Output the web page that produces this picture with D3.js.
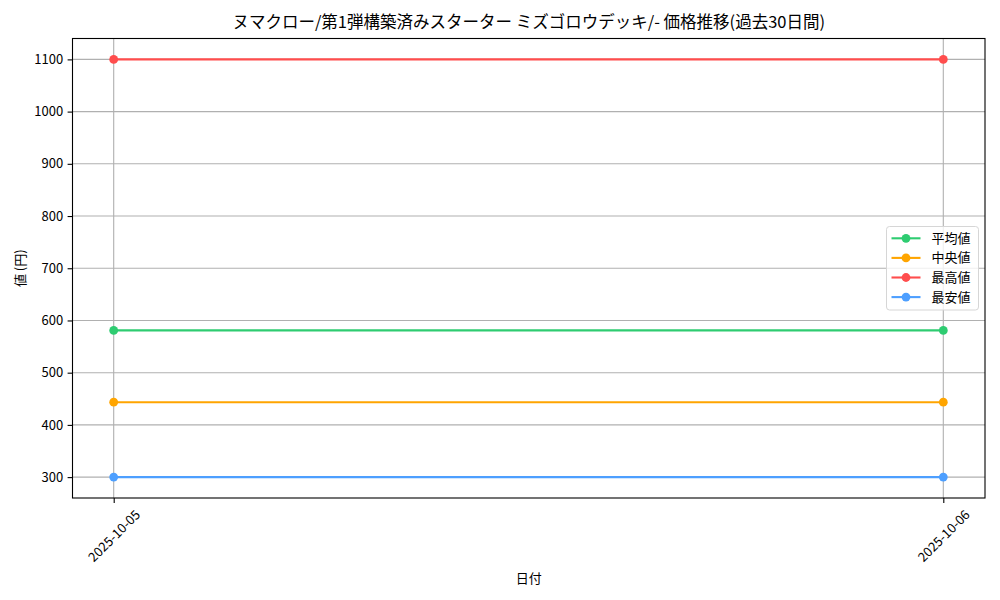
<!DOCTYPE html>
<html>
<head>
<meta charset="utf-8">
<script src="https://cdn.jsdelivr.net/npm/d3@7"></script>
<style>
  body { margin: 0; background: #fff; }
  text { font-family: "Noto Sans CJK JP", "DejaVu Sans", sans-serif; fill: #000; }
</style>
</head>
<body>
<div id="graph"></div>
<script>
let width = 1000;
let height = 600;

// data
let dates = ["2025-10-05", "2025-10-06"];
let seriesNames = ["平均値", "中央値", "最高値", "最安値"];
let seriesColors = ["#2ecc71", "#ffa500", "#ff4d4d", "#4d9fff"];
let avgValues = [581, 581];
let medianValues = [443.5, 443.5];
let maxValues = [1100, 1100];
let minValues = [300, 300];
let yTicks = [300, 400, 500, 600, 700, 800, 900, 1000, 1100];

let series = [avgValues, medianValues, maxValues, minValues].map((vals, i) => {
  return { name: seriesNames[i], color: seriesColors[i], values: vals };
});

let margin = { left: 72.5, right: 15, top: 38.5, bottom: 102 };

let svg = d3.select('#graph')
  .append('svg')
  .attr('width', width)
  .attr('height', height);

// matplotlib-ish 5% padding around the data
let x = d3.scalePoint()
  .domain(dates)
  .range([113.7, 943.3]);

let yMin = d3.min(series, s => d3.min(s.values));
let yMax = d3.max(series, s => d3.max(s.values));
let pad = (yMax - yMin) * 0.05;
let y = d3.scaleLinear()
  .domain([yMin - pad, yMax + pad])
  .range([height - margin.bottom, margin.top]);

let plotL = margin.left, plotR = width - margin.right;
let plotT = margin.top, plotB = height - margin.bottom;

// grid
svg.append('g')
  .selectAll('line')
  .data(yTicks)
  .enter()
  .append('line')
  .attr('x1', plotL).attr('x2', plotR)
  .attr('y1', d => y(d)).attr('y2', d => y(d))
  .attr('stroke', '#b0b0b0')
  .attr('stroke-width', 1.1);

svg.append('g')
  .selectAll('line')
  .data(dates)
  .enter()
  .append('line')
  .attr('x1', d => x(d)).attr('x2', d => x(d))
  .attr('y1', plotT).attr('y2', plotB)
  .attr('stroke', '#b0b0b0')
  .attr('stroke-width', 1.1);

// lines + markers
let line = d3.line()
  .x((d, i) => x(dates[i]))
  .y(d => y(d));

series.forEach(s => {
  svg.append('path')
    .datum(s.values)
    .attr('d', line)
    .attr('fill', 'none')
    .attr('stroke', s.color)
    .attr('stroke-width', 2.1);

  svg.append('g')
    .selectAll('circle')
    .data(s.values)
    .enter()
    .append('circle')
    .attr('cx', (d, i) => x(dates[i]))
    .attr('cy', d => y(d))
    .attr('r', 4.4)
    .attr('fill', s.color);
});

// frame
svg.append('rect')
  .attr('x', plotL).attr('y', plotT)
  .attr('width', plotR - plotL).attr('height', plotB - plotT)
  .attr('fill', 'none')
  .attr('stroke', '#000')
  .attr('stroke-width', 1.1);

// y axis
let yAxis = svg.append('g')
  .attr('transform', 'translate(' + plotL + ',0)')
  .call(d3.axisLeft(y).tickValues(yTicks).tickFormat(d3.format('d')).tickSize(4.9).tickPadding(4.5));
yAxis.select('.domain').remove();
yAxis.selectAll('text').attr('font-size', 13).attr('fill', '#000');
yAxis.selectAll('line').attr('stroke', '#000').attr('stroke-width', 1.1);

// x axis, labels rotated 45 and centred under the tick like matplotlib
let xAxis = svg.append('g')
  .attr('transform', 'translate(0,' + plotB + ')')
  .call(d3.axisBottom(x).tickSize(4.9).tickPadding(0));
xAxis.select('.domain').remove();
xAxis.selectAll('line').attr('stroke', '#000').attr('stroke-width', 1.1);
xAxis.selectAll('text')
  .attr('font-size', 13)
  .attr('fill', '#000')
  .attr('text-anchor', 'middle')
  .attr('dy', '0.35em')
  .attr('y', 0)
  .each(function() {
    let len = this.getComputedTextLength();
    let half = (len + 13) * Math.SQRT1_2 / 2;
    d3.select(this).attr('transform', 'translate(0,' + (9.8 + half) + ') rotate(-45)');
  });

// title + labels
svg.append('text')
  .attr('x', (plotL + plotR) / 2)
  .attr('y', 28)
  .attr('text-anchor', 'middle')
  .attr('font-size', 16.5)
  .text('ヌマクロー/第1弾構築済みスターター ミズゴロウデッキ/- 価格推移(過去30日間)');

svg.append('text')
  .attr('x', (plotL + plotR) / 2)
  .attr('y', 583)
  .attr('text-anchor', 'middle')
  .attr('font-size', 13)
  .text('日付');

svg.append('text')
  .attr('transform', 'translate(25,' + ((plotT + plotB) / 2) + ') rotate(-90)')
  .attr('text-anchor', 'middle')
  .attr('font-size', 13)
  .text('値 (円)');

// legend
let legend = svg.append('g').attr('transform', 'translate(886.5,226.5)');
legend.append('rect')
  .attr('width', 92).attr('height', 83.5)
  .attr('rx', 3)
  .attr('fill', 'rgba(255,255,255,0.8)')
  .attr('stroke', '#d6d6d6');

let items = legend.selectAll('g.item')
  .data(series)
  .enter()
  .append('g')
  .attr('transform', (d, i) => 'translate(0,' + (11.8 + i * 19.6) + ')');

items.append('line')
  .attr('x1', 5).attr('x2', 34)
  .attr('stroke', d => d.color)
  .attr('stroke-width', 2.1);
items.append('circle')
  .attr('cx', 19.5).attr('r', 4.4)
  .attr('fill', d => d.color);
items.append('text')
  .attr('x', 45)
  .attr('dy', '0.35em')
  .attr('font-size', 13)
  .text(d => d.name);
</script>
</body>
</html>
